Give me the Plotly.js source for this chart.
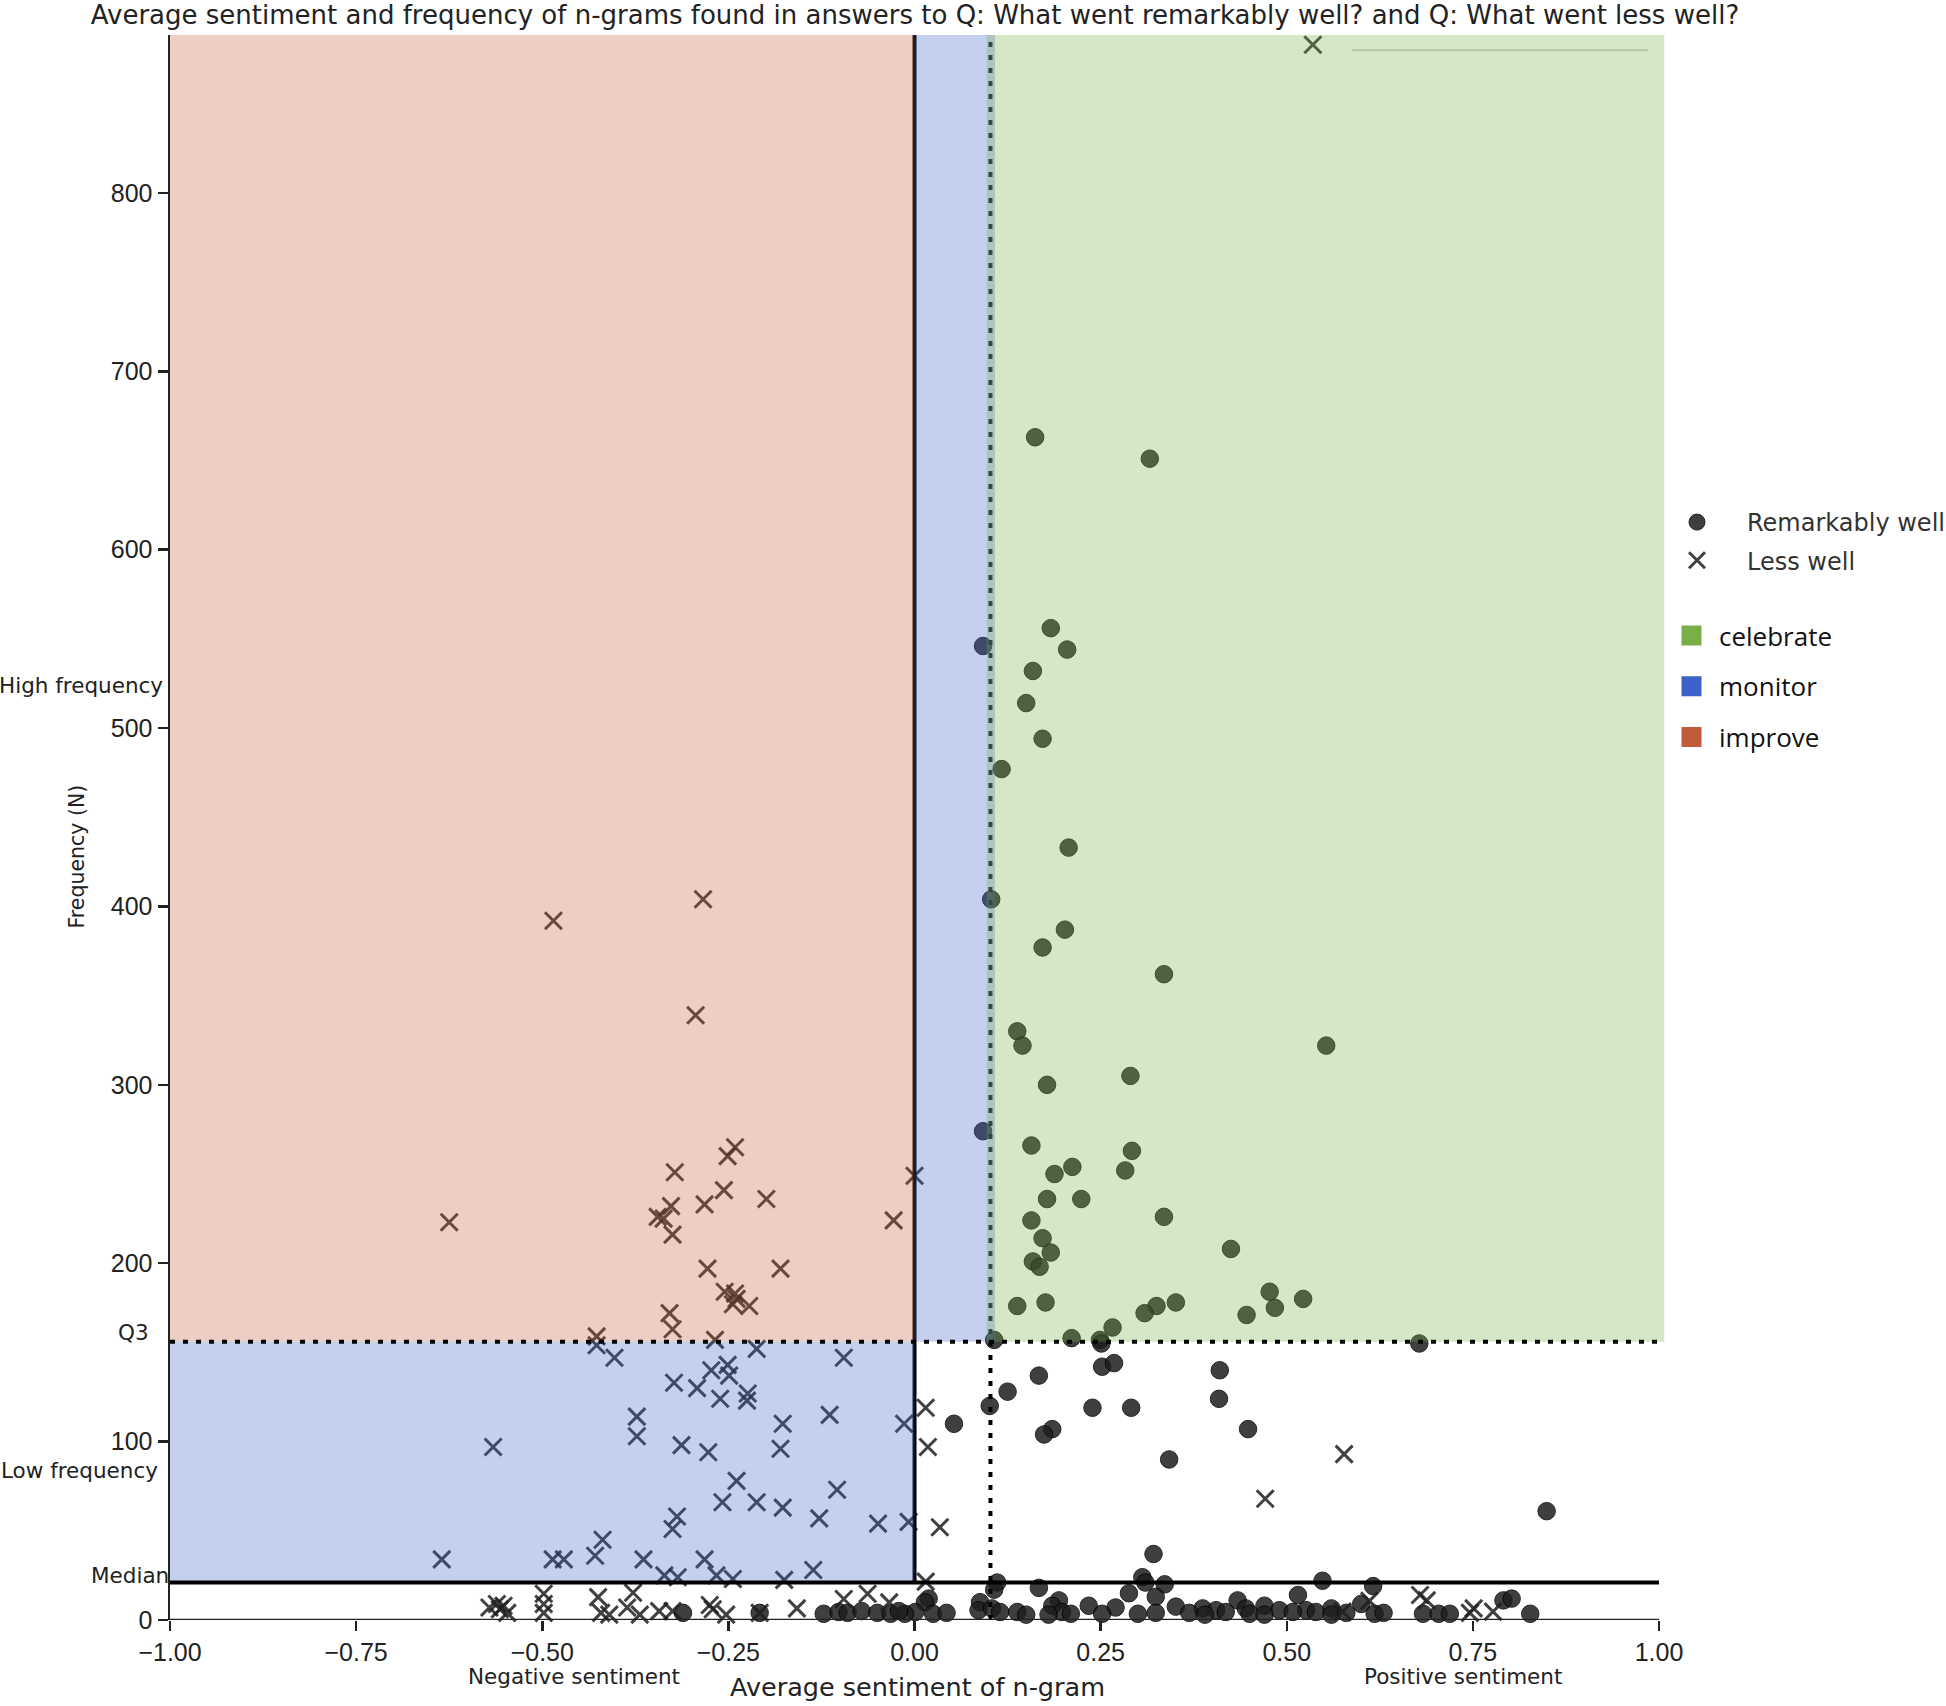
<!DOCTYPE html>
<html>
<head>
<meta charset="utf-8">
<script src="https://cdn.plot.ly/plotly-3.0.1.min.js"></script>
<style>html,body{margin:0;padding:0;background:#fff;}#chart{width:1946px;height:1706px;}</style>
</head>
<body>
<div id="chart"></div>
<script>
// ---------- data ----------
const chartTitle = 'Average sentiment and frequency of n-grams found in answers to Q: What went remarkably well? and Q: What went less well?';
const xTitle = 'Average sentiment of n-gram';
const yTitle = 'Frequency (N)';
const seriesNames = ['Remarkably well', 'Less well'];
const zoneNames = ['celebrate', 'monitor', 'improve'];
const xTickVals = [-1, -0.75, -0.5, -0.25, 0, 0.25, 0.5, 0.75, 1];
const yTickVals = [0, 100, 200, 300, 400, 500, 600, 700, 800];

// thresholds
const medianN = 21;
const q3N = 156;
const sentimentSplit = 0.102;

// Remarkably well (circles)
const wellX = [
  0.162,0.316,0.183,0.205,0.092,0.159,0.150,0.172,0.117,0.207,0.103,0.202,0.172,0.335,0.553,0.138,0.145,0.290,0.178,0.092,
  0.157,0.292,0.212,0.283,0.188,0.178,0.224,0.335,0.157,0.425,0.172,0.183,0.159,0.168,0.477,0.522,0.138,0.176,0.325,0.351,
  0.484,0.446,0.309,0.266,0.211,0.249,
  0.107,0.251,0.678,0.252,0.268,0.410,0.167,0.125,0.409,0.101,0.239,0.291,0.053,0.185,0.174,0.448,0.342,0.849,0.321,
  0.111,0.107,0.167,0.306,0.310,0.336,0.548,0.616,0.515,0.288,0.324,0.019,0.014,0.088,0.194,0.434,0.600,0.791,0.802,
  0.185,0.234,0.270,0.351,0.470,0.086,0.104,0.387,0.445,0.560,0.405,0.490,0.526,0.001,0.115,0.138,0.198,0.418,0.508,0.539,
  -0.013,0.025,0.043,0.252,0.324,0.369,0.618,0.683,0.704,0.719,0.827,
  -0.311,-0.208,-0.122,-0.102,-0.090,-0.071,-0.050,-0.032,-0.021,
  0.450,0.470,0.560,0.580,0.630,0.150,0.180,0.210,0.300,0.390
];
const wellY = [
  663,651,556,544,546,532,514,494,477,433,404,387,377,362,322,330,322,305,300,274,
  266,263,254,252,250,236,236,226,224,208,214,206,201,198,184,180,176,178,176,178,
  175,171,172,164,158,157,
  157,155,155,142,144,140,137,128,124,120,119,119,110,107,104,107,90,61,37,
  21,17,18,24,21,20,22,19,14,15,13,12,10,10,11,11,9,11,12,
  8,8,7,7.5,8,5.5,6.5,6.5,6.5,6.5,5.5,5.5,5.5,4.5,4.5,4.5,4.5,4.5,4.5,4.5,
  3.5,3.5,4,3.5,4,4,3.5,3.5,3.5,3.5,3.5,
  4,4,3.5,4.5,4,5,4,3.5,5,
  3.5,3,3,4,4,3,3,3.5,3.5,3
];

// Less well (crosses)
const lessX = [
  0.535,-0.284,-0.485,-0.294,-0.241,-0.251,-0.322,0.000,-0.256,-0.199,-0.282,-0.327,-0.345,-0.337,-0.625,-0.028,-0.325,-0.278,-0.180,-0.255,
  -0.241,-0.239,-0.244,-0.222,-0.329,-0.325,-0.427,-0.268,
  -0.427,-0.403,-0.212,-0.095,-0.273,-0.251,-0.249,-0.323,-0.292,-0.261,-0.224,-0.225,-0.373,-0.114,-0.177,-0.014,-0.373,-0.566,-0.313,-0.277,-0.180,-0.239,
  -0.104,-0.258,-0.212,-0.177,-0.319,-0.128,-0.049,-0.008,-0.325,-0.419,-0.635,-0.486,-0.471,-0.429,-0.364,-0.282,-0.136,-0.336,-0.318,-0.266,
  -0.244,-0.175,
  0.015,0.018,0.034,0.577,0.471,0.015,0.679,0.688,0.751,0.746,0.575,0.611,0.777,
  -0.571,-0.561,-0.557,-0.552,-0.547,-0.498,-0.498,-0.498,-0.425,-0.421,-0.410,-0.378,-0.386,-0.369,-0.343,-0.325,-0.275,-0.271,-0.253,-0.208,
  -0.158,-0.095,-0.063,-0.034
];
const lessY = [
  883,404,392,339,265,260,251,249,241,236,233,232,226,225,223,224,216,197,197,184,
  183,180,177,176,172,163,159,157,
  154,147,152,147,140,143,137,133,130,124,127,123,114,115,110,110,103,97,98,94,96,78,
  73,66,66,63,58,57,54,55,51,45,34,34,34,36,34,34,28,25,24,25,
  23,22.5,
  119,97,52,93,68,21.5,14,11,6.5,4,4.7,10.7,4.7,
  7,9,6,8,4,14.7,9,4,12.8,4,3,15.3,7,3,5,5,8.4,6,3,4,
  6.5,11.8,14.7,9.9
];

// zone colours
const zoneColors = ['rgb(120,175,70)', 'rgb(62,98,202)', 'rgb(192,92,58)'];

// ---------- layout helpers ----------
const W = 1946, H = 1706;
const M = {l: 170, r: 281, t: 35, b: 86, autoexpand: false};
const yTop = 888.5;
const xRight = 1.008;
const plotW = W - M.l - M.r, plotH = H - M.t - M.b;
const px2paperX = px => (px - M.l) / plotW;
const px2paperY = py => (H - M.b - py) / plotH;

const sans = 'Liberation Sans, Arial, sans-serif';
const wide = 'DejaVu Sans, sans-serif';
const dotted = '5px,8px';

const traces = [
  {
    type: 'scatter', mode: 'markers', name: seriesNames[0], x: wellX, y: wellY,
    cliponaxis: false, legend: 'legend', legendgroup: 'g1',
    marker: {symbol: 'circle', size: 17.5, color: '#1e1e1e', opacity: 0.85, line: {color: '#000', width: 1}},
    hoverinfo: 'x+y'
  },
  {
    type: 'scatter', mode: 'markers', name: seriesNames[1], x: lessX, y: lessY,
    cliponaxis: false, legend: 'legend', legendgroup: 'g2',
    marker: {symbol: 'x-thin-open', size: 17, color: '#1e1e1e', opacity: 0.85, line: {width: 3}},
    hoverinfo: 'x+y'
  }
];
zoneNames.forEach((nm, i) => {
  traces.push({
    type: 'scatter', mode: 'markers', name: nm, x: [null], y: [null],
    legend: 'legend2', legendgroup: 'z' + i,
    marker: {symbol: 'square', size: 16, color: zoneColors[i], line: {color: zoneColors[i], width: 4}}
  });
});

const shapes = [
  // lines under the tint
  {type: 'line', layer: 'above', xref: 'x', yref: 'y', x0: 0, x1: 0, y0: medianN, y1: yTop, line: {color: '#000', width: 4}},
  {type: 'line', layer: 'above', xref: 'x', yref: 'y', x0: sentimentSplit, x1: sentimentSplit, y0: 0, y1: yTop, line: {color: '#000', width: 4, dash: dotted}},
  // tinted zones
  {type: 'rect', layer: 'above', xref: 'x', yref: 'y', x0: -1, x1: 0, y0: q3N, y1: yTop, fillcolor: zoneColors[2], opacity: 0.3, line: {width: 0}},
  {type: 'rect', layer: 'above', xref: 'x', yref: 'y', x0: -1, x1: 0, y0: medianN, y1: q3N, fillcolor: zoneColors[1], opacity: 0.3, line: {width: 0}},
  {type: 'rect', layer: 'above', xref: 'x', yref: 'y', x0: 0, x1: sentimentSplit + 0.006, y0: q3N, y1: yTop, fillcolor: zoneColors[1], opacity: 0.3, line: {width: 0}},
  {type: 'rect', layer: 'above', xref: 'x', yref: 'y', x0: sentimentSplit - 0.005, x1: 1.007, y0: q3N, y1: yTop, fillcolor: zoneColors[0], opacity: 0.3, line: {width: 0}},
  // faint leftover frame line
  {type: 'line', layer: 'above', xref: 'x', yref: 'y', x0: 0.588, x1: 0.985, y0: 880, y1: 880, line: {color: 'rgba(110,140,90,0.35)', width: 2}},
  // threshold lines
  {type: 'line', layer: 'above', xref: 'x', yref: 'y', x0: -1, x1: 1, y0: q3N, y1: q3N, line: {color: '#000', width: 4, dash: dotted}},
  {type: 'line', layer: 'above', xref: 'x', yref: 'y', x0: -1, x1: 1, y0: medianN, y1: medianN, line: {color: '#000', width: 4}},
  // bottom spine
  {type: 'line', layer: 'above', xref: 'x', yref: 'y', x0: -1, x1: 1, y0: 0, y1: 0, line: {color: '#222', width: 2.5}}
];

const smallFont = {family: wide, size: 21.5, color: '#222'};
const annotations = [
  {text: 'High frequency', xref: 'paper', x: px2paperX(165), xanchor: 'right', yref: 'y', y: 524, yanchor: 'middle', showarrow: false, font: smallFont},
  {text: 'Low frequency', xref: 'paper', x: px2paperX(160), xanchor: 'right', yref: 'y', y: 84, yanchor: 'middle', showarrow: false, font: smallFont},
  {text: 'Q3', xref: 'paper', x: px2paperX(151), xanchor: 'right', yref: 'y', y: 161, yanchor: 'middle', showarrow: false, font: smallFont},
  {text: 'Median', xref: 'paper', x: px2paperX(171), xanchor: 'right', yref: 'y', y: 25, yanchor: 'middle', showarrow: false, font: smallFont},
  {text: 'Negative sentiment', xref: 'x', x: -0.457, xanchor: 'center', yref: 'paper', y: px2paperY(1676), yanchor: 'middle', showarrow: false, font: smallFont},
  {text: 'Positive sentiment', xref: 'x', x: 0.737, xanchor: 'center', yref: 'paper', y: px2paperY(1676), yanchor: 'middle', showarrow: false, font: smallFont},
  {text: yTitle, textangle: -90, xref: 'paper', x: px2paperX(77), xanchor: 'center', yref: 'y', y: 428, yanchor: 'middle', showarrow: false, font: {family: wide, size: 20.5, color: '#222'}}
];

const layout = {
  width: W, height: H,
  margin: M,
  paper_bgcolor: '#fff', plot_bgcolor: '#fff',
  showlegend: true,
  title: {
    text: chartTitle, font: {family: wide, size: 26, color: '#222'},
    xref: 'paper', x: px2paperX(915), xanchor: 'center',
    yref: 'container', y: 1 - 15 / H, yanchor: 'middle'
  },
  xaxis: {
    range: [-1, xRight], showgrid: false, zeroline: false, showline: false,
    tickmode: 'array', tickvals: xTickVals, tickformat: '.2f',
    ticks: 'outside', ticklen: 10, tickwidth: 2.5, tickcolor: '#222',
    tickfont: {family: sans, size: 25, color: '#222'},
    title: {text: xTitle, font: {family: wide, size: 25.5, color: '#222'}, standoff: 13}
  },
  yaxis: {
    range: [0, yTop], showgrid: false, zeroline: false,
    showline: true, linecolor: '#222', linewidth: 2.5,
    tickmode: 'array', tickvals: yTickVals,
    ticks: 'outside', ticklen: 10, tickwidth: 2.5, tickcolor: '#222',
    tickfont: {family: sans, size: 25, color: '#222'}
  },
  legend: {
    x: px2paperX(1647), xanchor: 'left', y: px2paperY(500), yanchor: 'top',
    bgcolor: 'rgba(0,0,0,0)', borderwidth: 0,
    itemwidth: 90, tracegroupgap: 4, traceorder: 'grouped',
    font: {family: wide, size: 24, color: '#333'}
  },
  legend2: {
    x: px2paperX(1664), xanchor: 'left', y: px2paperY(612), yanchor: 'top',
    bgcolor: 'rgba(0,0,0,0)', borderwidth: 0,
    itemwidth: 45, tracegroupgap: 14, traceorder: 'grouped',
    font: {family: 'Open Sans, sans-serif', size: 26, color: '#111'}
  },
  shapes: shapes,
  annotations: annotations
};

Plotly.newPlot('chart', traces, layout, {displayModeBar: false, staticPlot: true});
</script>
</body>
</html>
